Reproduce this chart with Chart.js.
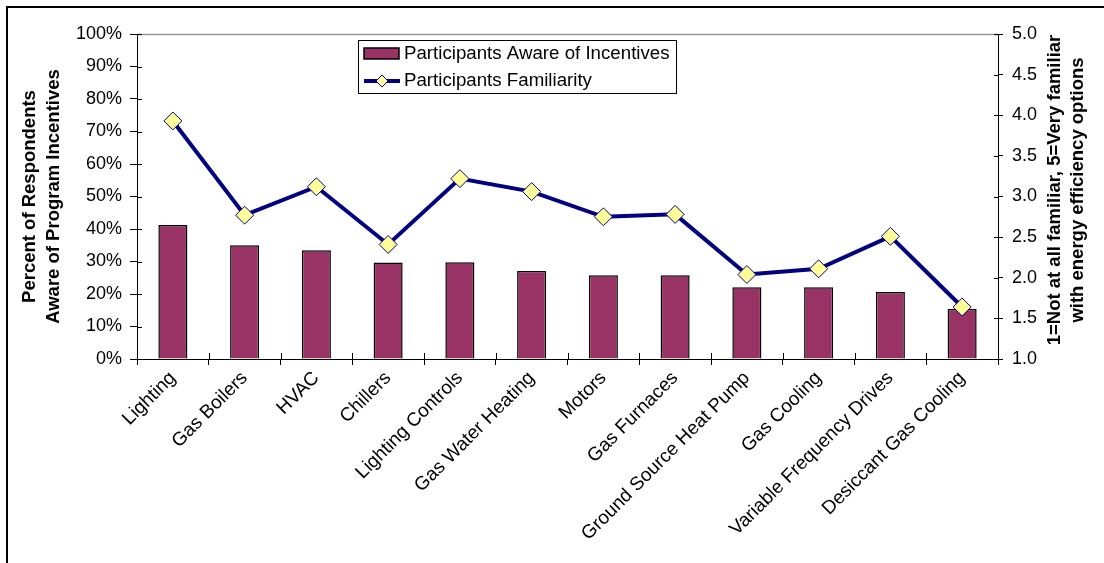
<!DOCTYPE html>
<html>
<head>
<meta charset="utf-8">
<script src="https://cdn.jsdelivr.net/npm/chart.js@4.4.1/dist/chart.umd.min.js"></script>
<style>
  body { margin: 0; background: #fff; }
  #wrap { width: 1104px; height: 563px; }
</style>
</head>
<body>
<div id="wrap"><canvas id="chart" width="1104" height="563"></canvas></div>
<script>
// categories and the two series
const categories = [
  "Lighting", "Gas Boilers", "HVAC", "Chillers", "Lighting Controls",
  "Gas Water Heating", "Motors", "Gas Furnaces", "Ground Source Heat Pump",
  "Gas Cooling", "Variable Frequency Drives", "Desiccant Gas Cooling"
];
const awareValues = [41.2, 35.0, 33.5, 29.7, 29.8, 27.1, 25.8, 25.8, 22.1, 22.1, 20.6, 15.4];
const familiarityValues = [3.93, 2.77, 3.12, 2.41, 3.22, 3.06, 2.75, 2.78, 2.04, 2.11, 2.51, 1.64];
const seriesNames = ["Participants Aware of Incentives", "Participants Familiarity"];
const leftTitle = ["Percent of Respondents", "Aware of Program Incentives"];
const rightTitle = ["1=Not at all familiar, 5=Very familiar", "with energy efficiency options"];

const FONT = "'Liberation Sans', Arial, sans-serif";
const BAR_COLOR = "#993366";
const LINE_COLOR = "#000080";
const MARKER_FILL = "#FFFF99";

// frame, plot top border, crossing ticks, right title and legend box
const decorations = {
  id: "decorations",
  afterDraw(chart) {
    const ctx = chart.ctx;
    const area = chart.chartArea;
    const y = chart.scales.y;
    const y1 = chart.scales.y1;
    ctx.save();

    // outer frame
    ctx.strokeStyle = "#000";
    ctx.lineWidth = 2;
    ctx.beginPath();
    ctx.moveTo(7, 563);
    ctx.lineTo(7, 7);
    ctx.lineTo(1104, 7);
    ctx.stroke();

    // plot top border
    ctx.strokeStyle = "#999";
    ctx.lineWidth = 1.5;
    ctx.beginPath();
    ctx.moveTo(area.left, area.top + 0.5);
    ctx.lineTo(area.right, area.top + 0.5);
    ctx.stroke();

    // tick parts inside the plot
    ctx.strokeStyle = "#000";
    ctx.lineWidth = 1;
    ctx.beginPath();
    y.ticks.forEach((t, i) => {
      const py = Math.round(y.getPixelForTick(i)) + 0.5;
      ctx.moveTo(area.left, py);
      ctx.lineTo(area.left + 5, py);
    });
    y1.ticks.forEach((t, i) => {
      const py = Math.round(y1.getPixelForTick(i)) + 0.5;
      ctx.moveTo(area.right, py);
      ctx.lineTo(area.right - 4, py);
    });
    for (let i = 0; i <= categories.length; i++) {
      const px = Math.round(area.left + (area.right - area.left) * i / categories.length) + 0.5;
      ctx.moveTo(px, area.bottom);
      ctx.lineTo(px, area.bottom - 6);
    }
    ctx.stroke();

    // right axis title, reading bottom to top
    ctx.fillStyle = "#000";
    ctx.font = "bold 18.5px " + FONT;
    ctx.textAlign = "center";
    ctx.textBaseline = "middle";
    ctx.translate(1055, 190);
    ctx.rotate(-Math.PI / 2);
    rightTitle.forEach((line, i) => ctx.fillText(line, 0, i * 23));
    ctx.setTransform(1, 0, 0, 1, 0, 0);

    // legend box
    const lx = 358, ly = 40, lw = 318, lh = 53;
    ctx.fillStyle = "#fff";
    ctx.fillRect(lx, ly, lw, lh);
    ctx.strokeStyle = "#000";
    ctx.lineWidth = 1;
    ctx.strokeRect(lx + 0.5, ly + 0.5, lw, lh);

    ctx.fillStyle = BAR_COLOR;
    ctx.fillRect(364, 48, 35, 11);
    ctx.strokeStyle = "#000";
    ctx.lineWidth = 1.5;
    ctx.strokeRect(364, 48, 35, 11);

    ctx.strokeStyle = LINE_COLOR;
    ctx.lineWidth = 4;
    ctx.beginPath();
    ctx.moveTo(364, 81);
    ctx.lineTo(400, 81);
    ctx.stroke();
    ctx.fillStyle = MARKER_FILL;
    ctx.lineWidth = 1;
    ctx.beginPath();
    ctx.moveTo(382, 75);
    ctx.lineTo(388, 81);
    ctx.lineTo(382, 87);
    ctx.lineTo(376, 81);
    ctx.closePath();
    ctx.fill();
    ctx.stroke();

    ctx.fillStyle = "#000";
    ctx.font = "18.7px " + FONT;
    ctx.textAlign = "left";
    ctx.textBaseline = "middle";
    ctx.fillText(seriesNames[0], 404, 54);
    ctx.fillText(seriesNames[1], 404, 81);
    ctx.restore();
  }
};

new Chart(document.getElementById("chart"), {
  type: "bar",
  data: {
    labels: categories,
    datasets: [
      {
        type: "line",
        label: seriesNames[1],
        data: familiarityValues,
        yAxisID: "y1",
        borderColor: LINE_COLOR,
        borderWidth: 4,
        pointStyle: "rectRot",
        pointRadius: 9,
        pointBackgroundColor: MARKER_FILL,
        pointBorderColor: LINE_COLOR,
        pointBorderWidth: 1,
        tension: 0,
        order: 0,
      },
      {
        type: "bar",
        label: seriesNames[0],
        data: awareValues,
        yAxisID: "y",
        backgroundColor: BAR_COLOR,
        borderColor: "#000",
        borderWidth: 1.5,
        categoryPercentage: 1,
        barPercentage: 0.405,
        order: 1,
      },
    ],
  },
  options: {
    responsive: false,
    animation: false,
    devicePixelRatio: 1,
    layout: { padding: { top: 34, left: 0, right: 0, bottom: 0 } },
    plugins: {
      legend: { display: false },
      tooltip: { enabled: false },
    },
    scales: {
      x: {
        offset: true,
        grid: { offset: true, drawOnChartArea: false, tickLength: 6, color: "#000" },
        border: { color: "#000", width: 1 },
        ticks: {
          color: "#000",
          font: { family: FONT, size: 19 },
          maxRotation: 45,
          minRotation: 45,
          autoSkip: false,
          padding: 2,
        },
        afterFit(scale) { scale.height = 204; },
      },
      y: {
        position: "left",
        min: 0,
        max: 100,
        ticks: {
          stepSize: 10,
          color: "#000",
          font: { family: FONT, size: 18 },
          padding: 8,
          callback: (v) => v + "%",
        },
        grid: { drawOnChartArea: false, tickLength: 7, color: "#000" },
        border: { color: "#000", width: 1 },
        title: {
          display: true,
          text: leftTitle,
          color: "#000",
          font: { family: FONT, size: 18.5, weight: "bold", lineHeight: 1.3 },
          padding: { top: 18, bottom: 0 },
        },
        afterFit(scale) { scale.width = 137; },
      },
      y1: {
        position: "right",
        min: 1,
        max: 5,
        ticks: {
          stepSize: 0.5,
          color: "#000",
          font: { family: FONT, size: 18 },
          padding: 9,
          callback: (v) => v.toFixed(1),
        },
        grid: { drawOnChartArea: false, tickLength: 5, color: "#000" },
        border: { color: "#000", width: 1 },
        afterFit(scale) { scale.width = 106; },
      },
    },
  },
  plugins: [decorations],
});
</script>
</body>
</html>
